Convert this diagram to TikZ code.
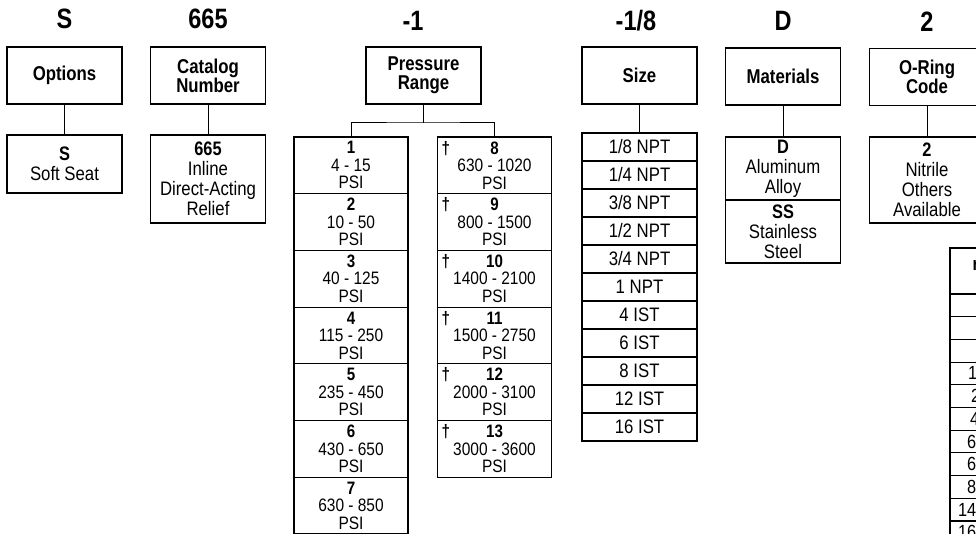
\documentclass[tikz,border=0pt]{standalone}
\usepackage{fontspec}
\setmainfont{Liberation Sans}[FakeStretch=0.86, BoldFeatures={FakeStretch=0.84}]
\usetikzlibrary{positioning}

\begin{document}
\begin{tikzpicture}[
    x=1pt, y=-1pt,
    every node/.style={inner sep=0pt, outer sep=0pt},
    title/.style={font=\fontsize{28}{28}\selectfont\bfseries},
    head/.style={draw, line width=1.1pt, minimum width=115pt, minimum height=57pt, align=center, font=\fontsize{20}{19}\selectfont\bfseries},
    pick/.style={draw, line width=1.1pt, minimum width=115pt, align=center, font=\fontsize{19.5}{20}\selectfont},
    psicell/.style={pick, minimum width=114pt, minimum height=56.7pt, font=\fontsize{18}{17.5}\selectfont},
    sizecell/.style={pick, minimum height=28pt},
    dagger/.style={label={[anchor=north west, xshift=4pt, yshift=-4pt, font=\fontsize{18}{18}\selectfont\bfseries]north west:\textdagger}},
    tabrow/.style={draw, line width=1.1pt, minimum width=110pt, minimum height=22.7pt},
    link/.style={line width=1pt}
]
  \useasboundingbox (0,0) rectangle (976,534);
  \clip (0,0) rectangle (976,534);

  % Code letters on top
  \node[title] (tS) at (64.5,19) {S};
  \node[title] (tcat) at (208,19) {665};
  \node[title] (tpress) at (413,21) {-1};
  \node[title] (tsize) at (636,21) {-1/8};
  \node[title] (tmat) at (783,21) {D};
  \node[title] (toring) at (927,22) {2};

  % Heading boxes
  \node[head] (opt) at (64.5,75.5) {Options};
  \node[head] (cat) at (208,75.5) {Catalog\\Number};
  \node[head] (press) at (423.5,75.5) {Pressure\\Range};
  \node[head] (size) at (639.5,75.5) {Size};
  \node[head] (mat) at (783,76.5) {Materials};
  \node[head] (oring) at (927,77) {O-Ring\\Code};

  % Choices
  \node[pick, minimum height=58pt, below=31pt of opt] (soft) {\textbf{S}\\Soft Seat};
  \node[pick, minimum height=88pt, below=31pt of cat] (inline) {\textbf{665}\\Inline\\Direct-Acting\\Relief};
  \node[pick, minimum height=63pt, below=32pt of mat] (alu) {\textbf{D}\\Aluminum\\Alloy};
  \node[pick, minimum height=63pt, below=0pt of alu] (ss) {\textbf{SS}\\Stainless\\Steel};
  \node[pick, minimum height=86pt, below=31.5pt of oring] (nitr) {\textbf{2}\\Nitrile\\Others\\Available};

  % Pressure ranges
  \coordinate (pl0) at (351,137);
  \coordinate (pr0) at (494.5,137);
  \foreach \n/\r [count=\i, remember=\i as \j (initially 0)] in {1/4 - 15, 2/10 - 50, 3/40 - 125, 4/115 - 250, 5/235 - 450, 6/430 - 650, 7/630 - 850}
    \node[psicell, below=0pt of pl\j] (pl\i) {\textbf{\n}\\\r\\PSI};
  \foreach \n/\r [count=\i, remember=\i as \j (initially 0)] in {8/630 - 1020, 9/800 - 1500, 10/1400 - 2100, 11/1500 - 2750, 12/2000 - 3100, 13/3000 - 3600}
    \node[psicell, dagger, below=0pt of pr\j] (pr\i) {\textbf{\n}\\\r\\PSI};

  % Sizes
  \coordinate (sz0) at (639.5,133);
  \foreach \s [count=\i, remember=\i as \j (initially 0)] in {1/8 NPT, 1/4 NPT, 3/8 NPT, 1/2 NPT, 3/4 NPT, 1 NPT, 4 IST, 6 IST, 8 IST, 12 IST, 16 IST}
    \node[sizecell, below=0pt of sz\j] (sz\i) {\s};

  % Table at the right edge
  \node[tabrow, minimum height=46pt, anchor=north west] (tb0) at (950,248) {};
  \node[font=\fontsize{19}{19}\selectfont\bfseries, anchor=base west] (tbh) at (972.5,271) {r};
  \foreach \t/\dx [count=\i, remember=\i as \j (initially 0)] in {/0, /0, /0, 1/18, 2/21, 4/20, 6/17, 6/17, 8/17, 14/8, 16/8} {
    \node[tabrow, below=0pt of tb\j] (tb\i) {};
    \node[font=\fontsize{19}{19}\selectfont, right=\dx pt of tb\i.west] (tt\i) {\t};
  }

  % Connectors
  \coordinate (fork) at (423.5,123);
  \draw[link] (opt.south) -- (soft.north);
  \draw[link] (cat.south) -- (inline.north);
  \draw[link] (press.south) -- (fork);
  \draw[link] (pl1.north) |- (fork) -| (pr1.north);
  \draw[link] (size.south) -- (sz1.north);
  \draw[link] (mat.south) -- (alu.north);
  \draw[link] (oring.south) -- (nitr.north);
\end{tikzpicture}
\end{document}
